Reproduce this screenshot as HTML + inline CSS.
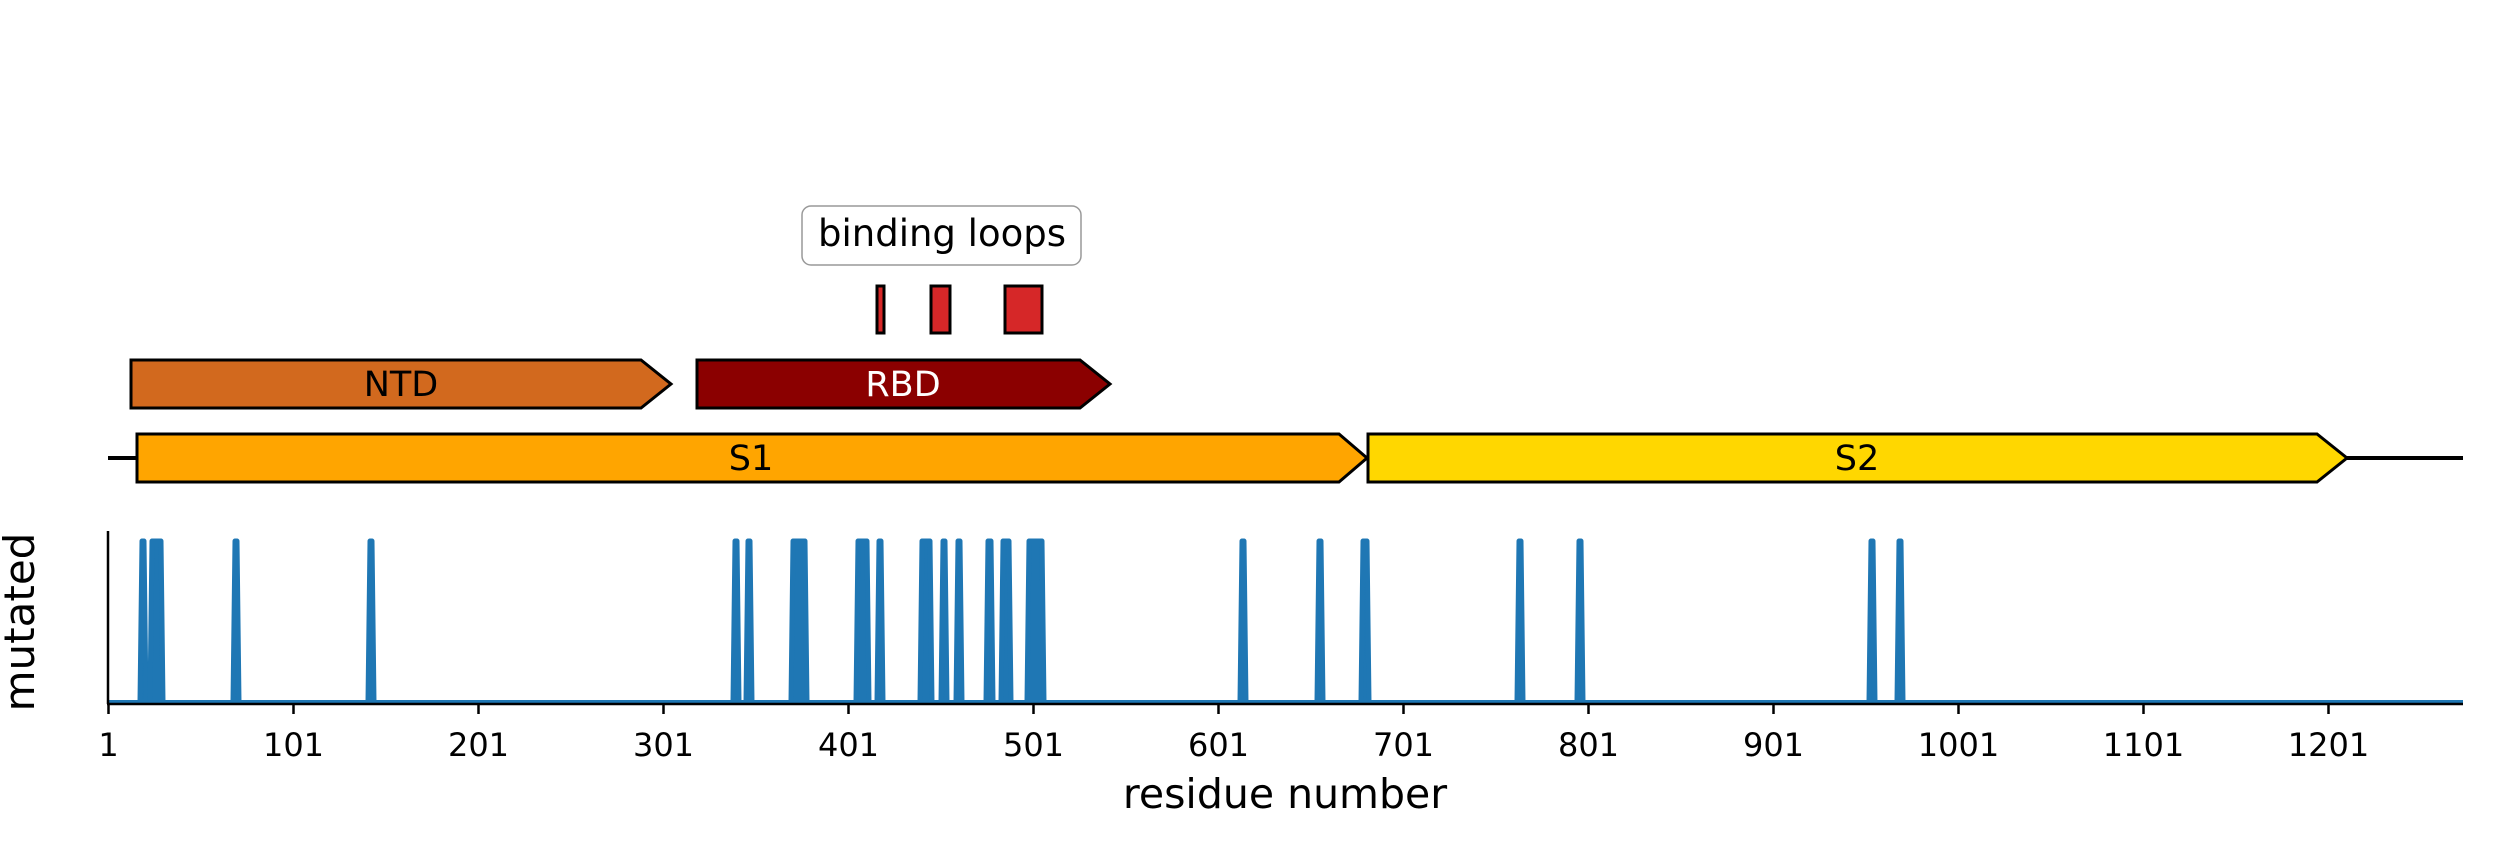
<!DOCTYPE html>
<html><head><meta charset="utf-8"><style>
html,body{margin:0;padding:0;background:#fff;}
svg{display:block;}
text{font-family:"DejaVu Sans","Liberation Sans",sans-serif;}
</style></head><body>
<svg width="2500" height="860" viewBox="0 0 2500 860" xmlns="http://www.w3.org/2000/svg">
<line x1="108" y1="458" x2="140" y2="458" stroke="#000" stroke-width="4"/>
<line x1="2345" y1="458" x2="2463" y2="458" stroke="#000" stroke-width="4"/>
<polygon points="137,434 1339,434 1367,458 1339,482 137,482" fill="#ffa500" stroke="#000" stroke-width="3"/>
<text x="751" y="470" font-size="35" text-anchor="middle" fill="#000">S1</text>
<polygon points="1368,434 2317,434 2347,458 2317,482 1368,482" fill="#ffd700" stroke="#000" stroke-width="3"/>
<text x="1857" y="470" font-size="35" text-anchor="middle" fill="#000">S2</text>
<polygon points="131,360 641,360 671,384 641,408 131,408" fill="#d2691e" stroke="#000" stroke-width="3"/>
<text x="401" y="396" font-size="35" text-anchor="middle" fill="#000">NTD</text>
<polygon points="697,360 1080,360 1110,384 1080,408 697,408" fill="#8b0000" stroke="#000" stroke-width="3"/>
<text x="903" y="396" font-size="35" text-anchor="middle" fill="#fff">RBD</text>
<rect x="877" y="286" width="7" height="47" fill="#d62728" stroke="#000" stroke-width="3"/>
<rect x="931" y="286" width="19" height="47" fill="#d62728" stroke="#000" stroke-width="3"/>
<rect x="1005" y="286" width="37" height="47" fill="#d62728" stroke="#000" stroke-width="3"/>
<rect x="802" y="206" width="279" height="59" rx="9" fill="#fff" stroke="#999" stroke-width="1.5"/>
<text x="942" y="246" font-size="37" text-anchor="middle" fill="#000">binding loops</text>
<g fill="#1f77b4" stroke="#1f77b4" stroke-width="5" stroke-linejoin="round">
<polygon points="140,702 142,541 144,541 146,702"/>
<polygon points="150,702 152,541 161,541 163,702"/>
<polygon points="233,702 235,541 237,541 239,702"/>
<polygon points="368,702 370,541 372,541 374,702"/>
<polygon points="733,702 735,541 737,541 739,702"/>
<polygon points="746,702 748,541 750,541 752,702"/>
<polygon points="791,702 793,541 805,541 807,702"/>
<polygon points="856,702 858,541 867,541 869,702"/>
<polygon points="877,702 879,541 881,541 883,702"/>
<polygon points="920,702 922,541 930,541 932,702"/>
<polygon points="941,702 943,541 945,541 947,702"/>
<polygon points="956,702 958,541 960,541 962,702"/>
<polygon points="986,702 988,541 991,541 993,702"/>
<polygon points="1001,702 1003,541 1009,541 1011,702"/>
<polygon points="1027,702 1029,541 1042,541 1044,702"/>
<polygon points="1240,702 1242,541 1244,541 1246,702"/>
<polygon points="1317,702 1319,541 1321,541 1323,702"/>
<polygon points="1361,702 1363,541 1367,541 1369,702"/>
<polygon points="1517,702 1519,541 1521,541 1523,702"/>
<polygon points="1577,702 1579,541 1581,541 1583,702"/>
<polygon points="1869,702 1871,541 1873,541 1875,702"/>
<polygon points="1897,702 1899,541 1901,541 1903,702"/>
</g>
<line x1="108" y1="702" x2="2463" y2="702" stroke="#1f77b4" stroke-width="4"/>
<line x1="108" y1="531" x2="108" y2="704" stroke="#000" stroke-width="2.5"/>
<line x1="107" y1="704" x2="2463" y2="704" stroke="#000" stroke-width="2.5"/>
<g stroke="#000" stroke-width="2.5">
<line x1="108.5" y1="703" x2="108.5" y2="714"/>
<line x1="293.5" y1="703" x2="293.5" y2="714"/>
<line x1="478.5" y1="703" x2="478.5" y2="714"/>
<line x1="663.5" y1="703" x2="663.5" y2="714"/>
<line x1="848.5" y1="703" x2="848.5" y2="714"/>
<line x1="1033.5" y1="703" x2="1033.5" y2="714"/>
<line x1="1218.5" y1="703" x2="1218.5" y2="714"/>
<line x1="1403.5" y1="703" x2="1403.5" y2="714"/>
<line x1="1588.5" y1="703" x2="1588.5" y2="714"/>
<line x1="1773.5" y1="703" x2="1773.5" y2="714"/>
<line x1="1958.5" y1="703" x2="1958.5" y2="714"/>
<line x1="2143.5" y1="703" x2="2143.5" y2="714"/>
<line x1="2328.5" y1="703" x2="2328.5" y2="714"/>
</g>
<g font-size="32" text-anchor="middle" fill="#000">
<text x="108.5" y="756">1</text>
<text x="293.5" y="756">101</text>
<text x="478.5" y="756">201</text>
<text x="663.5" y="756">301</text>
<text x="848.5" y="756">401</text>
<text x="1033.5" y="756">501</text>
<text x="1218.5" y="756">601</text>
<text x="1403.5" y="756">701</text>
<text x="1588.5" y="756">801</text>
<text x="1773.5" y="756">901</text>
<text x="1958.5" y="756">1001</text>
<text x="2143.5" y="756">1101</text>
<text x="2328.5" y="756">1201</text>
</g>
<text x="1285" y="808" font-size="41" text-anchor="middle" fill="#000">residue number</text>
<text transform="translate(34,622) rotate(-90)" font-size="42" text-anchor="middle" fill="#000">mutated</text>
</svg>
</body></html>
